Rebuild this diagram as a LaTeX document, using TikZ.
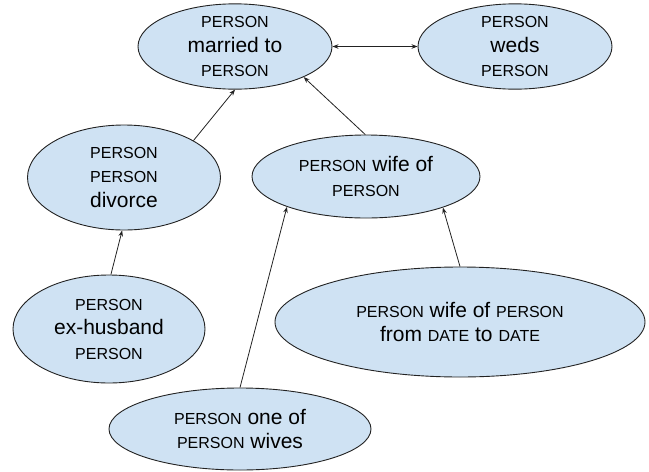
\documentclass[tikz,border=0pt]{standalone}
\usepackage{fontspec}
\setmainfont{Liberation Sans}
\usetikzlibrary{shapes.geometric,arrows.meta}
\definecolor{bubble}{HTML}{CFE2F3}
\definecolor{edge}{HTML}{222222}
\newcommand\pp{{\fontsize{16}{24.5}\selectfont PERSON}}
\newcommand\dd{{\fontsize{16}{24.5}\selectfont DATE}}
\begin{document}
\begin{tikzpicture}[x=1pt,y=-1pt,
  bub/.style={ellipse,draw=edge,line width=0.9pt,fill=bubble,inner sep=0pt,align=center,
    text=black,font=\fontsize{21}{24.5}\selectfont},
  conn/.style={draw=edge,line width=0.8pt,-{Stealth[length=6pt,width=4.5pt]}},
  biconn/.style={draw=edge,line width=0.8pt,{Stealth[length=6pt,width=4.5pt]}-{Stealth[length=6pt,width=4.5pt]}}]
\useasboundingbox (0,0) rectangle (649,472);
\node[bub,minimum width=194pt,minimum height=84pt] (married) at (235,46.5) {\pp\\married to\\\pp};
\node[bub,minimum width=194pt,minimum height=84pt] (weds) at (515,46.5) {\pp\\weds\\\pp};
\node[bub,minimum width=193pt,minimum height=105pt] (divorce) at (124,177.5) {\pp\\\pp\\divorce};
\node[bub,minimum width=228pt,minimum height=83pt] (wifeof) at (366,176.5) {\pp{} wife of\\\pp};
\node[bub,minimum width=192pt,minimum height=108pt] (exhusb) at (109,329) {\pp\\ex-husband\\\pp};
\node[bub,minimum width=370pt,minimum height=110pt] (big) at (460,322) {\pp{} wife of \pp\\from \dd{} to \dd};
\node[bub,minimum width=262pt,minimum height=82pt] (wives) at (240,429) {\pp{} one of\\\pp{} wives};
\draw[biconn] (married.east) -- (weds.west);
\draw[conn] (divorce.28) -- (married.270);
\draw[conn] (wifeof.91) -- (married.336);
\draw[conn] (exhusb.88) -- (divorce.268);
\draw[conn] (wives.90) -- (wifeof.201);
\draw[conn] (big.90) -- (wifeof.338);
\end{tikzpicture}
\end{document}
